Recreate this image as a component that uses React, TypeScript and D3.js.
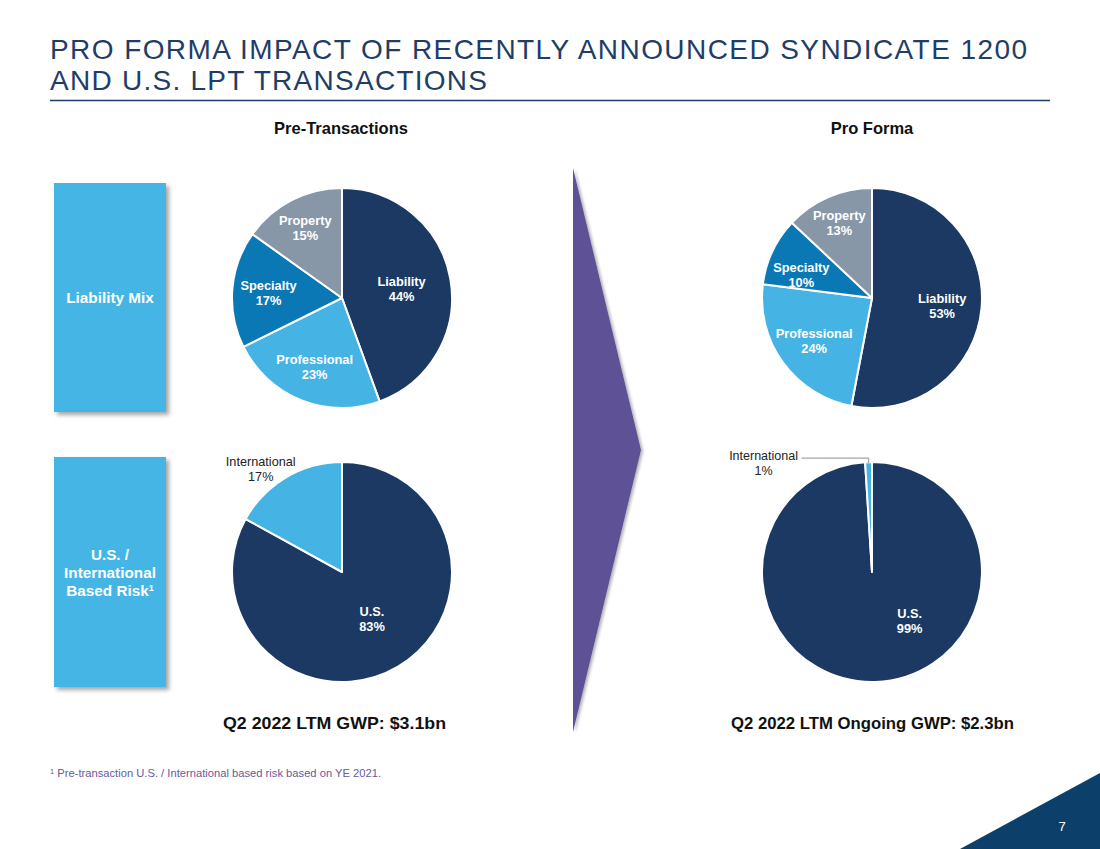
import React from "react";
import * as d3 from "d3";

const mixCategories = ["Liability", "Professional", "Specialty", "Property"];
const mixPre = [44, 23, 17, 15];
const mixPro = [53, 24, 10, 13];
const geoCategories = ["U.S.", "International"];
const geoPre = [83, 17];
const geoPro = [99, 1];

const mixColors = ["#1b3962", "#45b4e4", "#0b78b6", "#8797a8"];
const geoColors = ["#1b3962", "#45b4e4"];

// label placement (fraction of radius, optional angle override in degrees)
const mixPreLabel = [{ r: 0.55 }, { r: 0.67 }, { r: 0.67 }, { r: 0.73 }];
const mixProLabel = [{ r: 0.64 }, { r: 0.65 }, { r: 0.68, a: 289 }, { r: 0.75 }];
const geoPreLabel = [{ r: 0.5, a: 147 }, { r: 1.2, a: 322, outside: true }];
const geoProLabel = [{ r: 0.555, a: 142 }, { r: 0, leader: true }];

const FONT = "'Liberation Sans', Arial, sans-serif";
const R = 110;

type LabelSpec = { r: number; a?: number; outside?: boolean; leader?: boolean };

function Pie({
  cx,
  cy,
  cats,
  values,
  colors,
  labels,
}: {
  cx: number;
  cy: number;
  cats: string[];
  values: number[];
  colors: string[];
  labels: LabelSpec[];
}) {
  const pie = d3.pie<number>().sort(null).value((d) => d);
  const arcs = pie(values);
  const arc = d3.arc<d3.PieArcDatum<number>>().innerRadius(0).outerRadius(R);
  return (
    <g transform={`translate(${cx},${cy})`}>
      {arcs.map((a, i) => (
        <path key={i} d={arc(a) || ""} fill={colors[i]} stroke="#ffffff" strokeWidth={2} strokeLinejoin="round" />
      ))}
      {arcs.map((a, i) => {
        const spec = labels[i];
        const mid = (a.startAngle + a.endAngle) / 2;
        if (spec.leader) {
          const ex = R * Math.sin(mid);
          const ey = -R * Math.cos(mid);
          const ly = ey - 4;
          const tx = ex - 105;
          return (
            <g key={"l" + i}>
              <polyline
                points={`${ex},${ey + 1} ${ex},${ly} ${tx + 38},${ly}`}
                fill="none"
                stroke="#a6a6a6"
                strokeWidth={1.3}
              />
              <text x={tx} y={ly + 2} textAnchor="middle" fontFamily={FONT} fontSize={12.5} fill="#222">
                {cats[i]}
              </text>
              <text x={tx} y={ly + 17} textAnchor="middle" fontFamily={FONT} fontSize={12.5} fill="#222">
                {values[i]}%
              </text>
            </g>
          );
        }
        const ang = spec.a !== undefined ? (spec.a * Math.PI) / 180 : mid;
        const rr = spec.r * R;
        const x = rr * Math.sin(ang);
        const y = -rr * Math.cos(ang);
        const outside = !!spec.outside;
        return (
          <g
            key={"t" + i}
            fontFamily={FONT}
            fontSize={outside ? 12.7 : 12.8}
            fontWeight={outside ? 400 : 700}
            fill={outside ? "#222" : "#ffffff"}
          >
            <text x={x} y={y - 2} textAnchor="middle">
              {cats[i]}
            </text>
            <text x={x} y={y + 13} textAnchor="middle">
              {values[i]}%
            </text>
          </g>
        );
      })}
    </g>
  );
}

export default function App() {
  return (
    <svg width={1100} height={849} style={{ display: "block", position: "absolute", left: 0, top: 0, background: "#fff" }}>
      <defs>
        <filter id="sh" x="-10%" y="-10%" width="130%" height="130%">
          <feDropShadow dx={3} dy={3} stdDeviation={2} floodColor="#000" floodOpacity={0.35} />
        </filter>
        <filter id="sh2" x="-20%" y="-5%" width="150%" height="110%">
          <feDropShadow dx={2} dy={1} stdDeviation={1.5} floodColor="#000" floodOpacity={0.3} />
        </filter>
      </defs>
      <rect width={1100} height={849} fill="#ffffff" />

      {/* Title */}
      <g fontFamily={FONT} fontSize={28} fill="#1f3d66">
        <text x={50} y={59} textLength={977} lengthAdjust="spacing">
          PRO FORMA IMPACT OF RECENTLY ANNOUNCED SYNDICATE 1200
        </text>
        <text x={50} y={90} textLength={437} lengthAdjust="spacing">
          AND U.S. LPT TRANSACTIONS
        </text>
      </g>
      <line x1={50} x2={1050} y1={100.5} y2={100.5} stroke="#1f3d66" strokeWidth={1.3} />

      {/* Column headers */}
      <g fontFamily={FONT} fontSize={16.5} fontWeight={700} fill="#111" textAnchor="middle">
        <text x={341} y={134}>Pre-Transactions</text>
        <text x={872} y={134}>Pro Forma</text>
      </g>

      {/* Row boxes */}
      <rect x={54} y={183} width={112} height={229} fill="#45b5e5" filter="url(#sh)" />
      <rect x={54} y={457} width={112} height={230} fill="#45b5e5" filter="url(#sh)" />
      <g fontFamily={FONT} fontSize={15.3} fontWeight={700} fill="#ffffff" textAnchor="middle">
        <text x={110} y={303}>Liability Mix</text>
        <text x={110} y={560}>U.S. /</text>
        <text x={110} y={578}>International</text>
        <text x={110} y={596}>
          Based Risk<tspan fontSize={9} dy={-5}>1</tspan>
        </text>
      </g>

      {/* Arrow */}
      <polygon points="573,168 641,450 573,732" fill="#5e5196" filter="url(#sh2)" />

      {/* Pies */}
      <Pie cx={342} cy={298} cats={mixCategories} values={mixPre} colors={mixColors} labels={mixPreLabel} />
      <Pie cx={872} cy={298} cats={mixCategories} values={mixPro} colors={mixColors} labels={mixProLabel} />
      <Pie cx={342} cy={572} cats={geoCategories} values={geoPre} colors={geoColors} labels={geoPreLabel} />
      <Pie cx={872} cy={572} cats={geoCategories} values={geoPro} colors={geoColors} labels={geoProLabel} />

      {/* Footers */}
      <g fontFamily={FONT} fontSize={17} fontWeight={700} fill="#111" textAnchor="middle">
        <text x={334.5} y={729} textLength={223} lengthAdjust="spacingAndGlyphs">Q2 2022 LTM GWP: $3.1bn</text>
        <text x={872.5} y={729} textLength={283} lengthAdjust="spacingAndGlyphs">Q2 2022 LTM Ongoing GWP: $2.3bn</text>
      </g>

      <text x={50} y={777} fontFamily={FONT} fontSize={11.2} fill="#6a5a9a">
        <tspan fontSize={7.5} dy={-3}>1</tspan>
        <tspan dy={3}> Pre-transaction U.S. / International based risk based on YE 2021.</tspan>
      </text>

      {/* Corner */}
      <polygon points="960,849 1100,773 1100,849" fill="#0d3f6b" />
      <text x={1062} y={831} fontFamily={FONT} fontSize={13} fill="#ffffff" textAnchor="middle">
        7
      </text>
    </svg>
  );
}
